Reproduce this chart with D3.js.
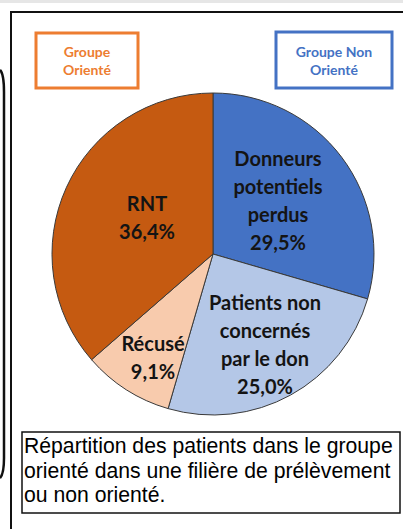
<!DOCTYPE html>
<html>
<head>
<meta charset="utf-8">
<script src="https://cdn.jsdelivr.net/npm/d3@7"></script>
<style>
  body { margin: 0; background: #fff; }
  svg { display: block; }
</style>
</head>
<body>
<div id="chart"></div>
<script>
// Slices, clockwise from 12 o'clock
const categories = ['Donneurs potentiels perdus', 'Patients non concernés par le don', 'Récusé', 'RNT']
const values = [29.5, 25.0, 9.1, 36.4]
const labelLines = [
  ['Donneurs', 'potentiels', 'perdus', '29,5%'],
  ['Patients non', 'concernés', 'par le don', '25,0%'],
  ['Récusé', '9,1%'],
  ['RNT', '36,4%']
]
const colors = ['#4472C4', '#B4C7E7', '#F8CBAD', '#C55A11']
const captionLines = [
  'Répartition des patients dans le groupe',
  'orienté dans une filière de prélèvement',
  'ou non orienté.'
]

const width = 403
const height = 529

d3.select('#chart').selectAll('*').remove()
const svg = d3.select('#chart').append('svg').attr('width', width).attr('height', height)

// light band at the very top
svg.append('rect').attr('x', 0).attr('y', 0).attr('width', width).attr('height', 3).attr('fill', '#e6e6e6')

// edge of the neighbouring panel, cut off at the left
svg.append('path')
  .attr('d', 'M0,70 Q4,74 4,92 L4,458 Q4,474 0,478')
  .attr('fill', 'none')
  .attr('stroke', '#111')
  .attr('stroke-width', 2.5)

// outer frame (left and top sides visible)
svg.append('path')
  .attr('d', `M11,${height} L11,12 L${width},12`)
  .attr('fill', 'none')
  .attr('stroke', '#111')
  .attr('stroke-width', 2)

// pie
const cx = 213, cy = 254, r = 161
const pie = d3.pie().sort(null).value(d => d)
const arc = d3.arc().innerRadius(0).outerRadius(r)
const arcs = pie(values)

const g = svg.append('g').attr('transform', `translate(${cx},${cy})`)
g.selectAll('path.slice')
  .data(arcs)
  .join('path')
  .attr('class', 'slice')
  .attr('d', arc)
  .attr('fill', (d, i) => colors[i])
  .attr('stroke', '#3a3a3a')
  .attr('stroke-width', 1)

// label centres, relative to the pie centre
const labelPos = [[65, -53], [52, 91], [-60, 104], [-66, -36]]
const lineH = 28.3

g.selectAll('text.lbl')
  .data(arcs)
  .join('text')
  .attr('class', 'lbl')
  .attr('text-anchor', 'middle')
  .attr('font-family', 'Lato, "Open Sans", sans-serif')
  .attr('font-weight', 700)
  .attr('font-size', '20px')
  .attr('fill', '#141414')
  .each(function (d, i) {
    const lines = labelLines[i]
    const y0 = labelPos[i][1] - (lines.length - 1) * lineH / 2
    d3.select(this).selectAll('tspan')
      .data(lines)
      .join('tspan')
      .attr('x', labelPos[i][0])
      .attr('y', (t, k) => y0 + k * lineH)
      .attr('dy', '0.35em')
      .text(t => t)
  })

// group boxes
const boxes = [
  { x: 36, y: 33, w: 102, h: 55, color: '#ED7D31', text: ['Groupe', 'Orienté'] },
  { x: 276, y: 32, w: 116, h: 56, color: '#4472C4', text: ['Groupe Non', 'Orienté'] }
]
boxes.forEach(b => {
  svg.append('rect')
    .attr('x', b.x).attr('y', b.y).attr('width', b.w).attr('height', b.h)
    .attr('fill', '#fff')
    .attr('stroke', b.color)
    .attr('stroke-width', 3)
  svg.append('text')
    .attr('text-anchor', 'middle')
    .attr('font-family', 'Lato, "Open Sans", sans-serif')
    .attr('font-weight', 700)
    .attr('font-size', '14px')
    .attr('fill', b.color)
    .selectAll('tspan')
    .data(b.text)
    .join('tspan')
    .attr('x', b.x + b.w / 2)
    .attr('y', (t, k) => 52 + k * 18)
    .attr('dy', '0.35em')
    .text(t => t)
})

// caption box
svg.append('rect')
  .attr('x', 22).attr('y', 432).attr('width', 378).attr('height', 81)
  .attr('fill', '#fff')
  .attr('stroke', '#111')
  .attr('stroke-width', 1.5)

svg.append('text')
  .attr('font-family', '"Liberation Sans", Arial, sans-serif')
  .attr('font-size', '21.2px')
  .attr('fill', '#000')
  .selectAll('tspan')
  .data(captionLines)
  .join('tspan')
  .attr('x', 24)
  .attr('y', (t, k) => 453 + k * 24.5)
  .text(t => t)
</script>
</body>
</html>
